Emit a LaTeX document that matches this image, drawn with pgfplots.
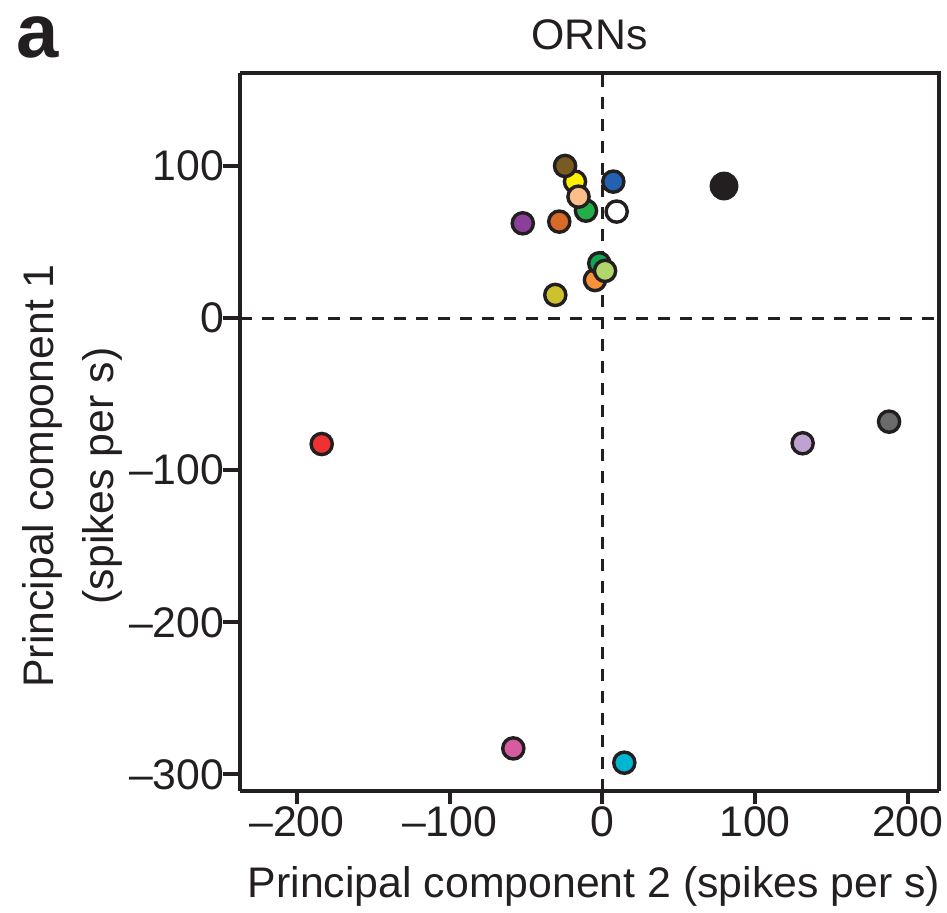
\documentclass[border=0pt]{standalone}
\usepackage{pgfplots}
\pgfplotsset{compat=1.18}
\usepackage{fontspec}
\setmainfont{Liberation Sans}

\definecolor{cBrown}{HTML}{7A5A23}
\definecolor{cYellow}{HTML}{FFF000}
\definecolor{cPeach}{HTML}{FDBE8A}
\definecolor{cGreen}{HTML}{24AE4A}
\definecolor{cBlue}{HTML}{2461B0}
\definecolor{cPurple}{HTML}{8B3F9B}
\definecolor{cDkOrange}{HTML}{D86A28}
\definecolor{cGreenB}{HTML}{13A552}
\definecolor{cLtOrange}{HTML}{F7923A}
\definecolor{cLtGreen}{HTML}{B2D66B}
\definecolor{cOlive}{HTML}{CDC22E}
\definecolor{cRed}{HTML}{EE3234}
\definecolor{cPink}{HTML}{D75BA1}
\definecolor{cCyan}{HTML}{00B5D0}
\definecolor{cLavender}{HTML}{C0A2D0}
\definecolor{cGray}{HTML}{6A6B6A}
\definecolor{cInk}{HTML}{231F20}

\pgfplotsset{
  odor/.style={only marks, mark=*, mark size=5.3pt,
    mark options={draw=cInk, line width=1.7pt, fill=#1}},
}

\begin{document}
\begin{tikzpicture}
\useasboundingbox (0,0) rectangle (473.5pt,-456.5pt);
\begin{axis}[
  at={(120pt,-395.35pt)}, anchor=south west,
  scale only axis, width=349.5pt, height=359pt,
  xmin=-237.3, xmax=220.5, ymin=-310.7, ymax=161.3,
  axis line style={line width=2pt, cInk},
  axis x line*=bottom, axis y line*=left,
  tick align=outside,
  xtick={-200,-100,0,100,200},
  xticklabels={\textendash200,\textendash100,0,100,200},
  ytick={-300,-200,-100,0,100},
  yticklabels={\textendash300,\textendash200,\textendash100,0,100},
  xtick style={line width=2pt, cInk, /pgfplots/major tick length=6.5pt},
  ytick style={line width=2pt, cInk, /pgfplots/major tick length=8.5pt},
  tick label style={font=\fontsize{21.4pt}{24pt}\selectfont, text=cInk},
  clip=false,
]
% reference lines through the origin
\addplot[cInk, line width=1.5pt, dash pattern=on 6pt off 5pt] coordinates {(0,-310.7) (0,161.3)};
\addplot[cInk, line width=1.5pt, dash pattern=on 6pt off 5pt] coordinates {(-237.3,0) (220.5,0)};
% closing the box on top and right
\draw[line width=2pt, cInk] (rel axis cs:0,1) -- (rel axis cs:1,1) -- (rel axis cs:1,0);

% odor responses
\addplot[only marks, mark=*, mark size=7pt, mark options={draw=cInk, fill=cInk}] coordinates {(79.7,86.8)};
\addplot[odor=cRed] coordinates {(-183.8,-82.8)};
\addplot[odor=cPink] coordinates {(-58.3,-282.9)};
\addplot[odor=cCyan] coordinates {(14.4,-292.3)};
\addplot[odor=cLavender] coordinates {(131.2,-82.3)};
\addplot[odor=cGray] coordinates {(187.8,-68.1)};
\addplot[odor=cBlue] coordinates {(7.2,89.7)};
\addplot[odor=white] coordinates {(9.4,70.0)};
\addplot[odor=cPurple] coordinates {(-52.1,62.3)};
\addplot[odor=cDkOrange] coordinates {(-28.2,63.4)};
\addplot[odor=cGreen] coordinates {(-10.7,70.6)};
\addplot[odor=cYellow] coordinates {(-17.9,89.7)};
\addplot[odor=cPeach] coordinates {(-15.6,79.8)};
\addplot[odor=cBrown] coordinates {(-24.4,100.0)};
\addplot[odor=cOlive] coordinates {(-30.8,15.2)};
\addplot[odor=cLtOrange] coordinates {(-4.8,25.0)};
\addplot[odor=cGreenB] coordinates {(-2.0,36.0)};
\addplot[odor=cLtGreen] coordinates {(1.8,31.0)};
\end{axis}

% labels
\node[anchor=base, inner sep=0, font=\fontsize{21.4pt}{24pt}\selectfont, text=cInk] at (297pt,-448.5pt) {Principal component 2 (spikes per s)};
\node[anchor=base, inner sep=0, rotate=90, font=\fontsize{21.4pt}{24pt}\selectfont, text=cInk] at (26.5pt,-238pt) {Principal component 1};
\node[anchor=base, inner sep=0, rotate=90, font=\fontsize{21.4pt}{24pt}\selectfont, text=cInk] at (56.5pt,-238pt) {(spikes per s)};
\node[anchor=base, inner sep=0, font=\fontsize{21.4pt}{24pt}\selectfont, text=cInk] at (294.75pt,-25pt) {ORNs};
\node[anchor=base west, inner sep=0, font=\fontsize{38pt}{42pt}\selectfont\bfseries, text=cInk] at (8pt,-29pt) {a};
\end{tikzpicture}
\end{document}
